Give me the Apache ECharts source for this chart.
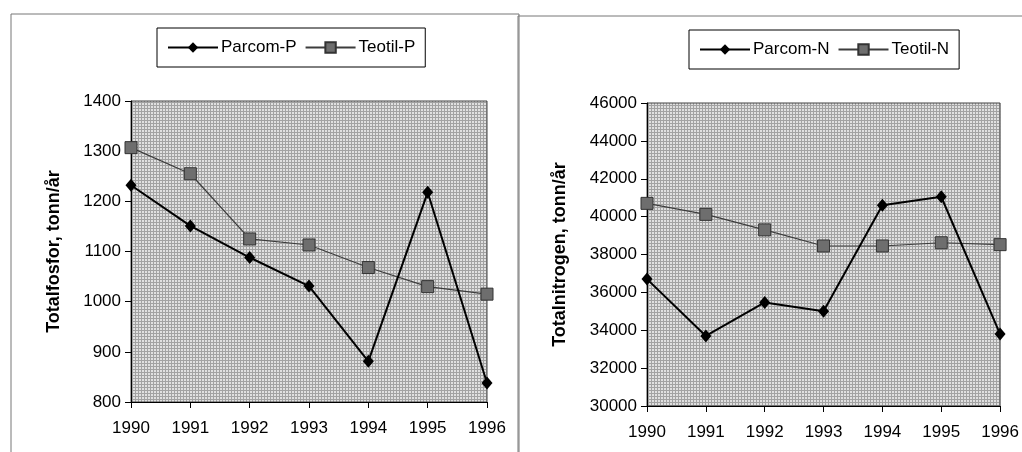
<!DOCTYPE html>
<html><head><meta charset="utf-8">
<script src="https://cdn.jsdelivr.net/npm/echarts@6/dist/echarts.min.js"></script>
<style>html,body{margin:0;padding:0;background:#fff}#c{width:1022px;height:452px}</style>
</head><body><div id="c"></div>
<script>
var years = ['1990','1991','1992','1993','1994','1995','1996'];
var parcomP = [1232, 1151, 1088, 1031, 881, 1218, 838];
var teotilP = [1307, 1255, 1125, 1113, 1068, 1030, 1015];
var parcomN = [36700, 33700, 35470, 35000, 40600, 41050, 33800];
var teotilN = [40700, 40120, 39300, 38450, 38450, 38620, 38520];
var font = 'Arial, "Liberation Sans", sans-serif';

// stippled plot-area fill
var tile = document.createElement('canvas');
tile.width = 3; tile.height = 3;
var tc = tile.getContext('2d');
tc.fillStyle = '#e0e0e0'; tc.fillRect(0,0,3,3);
tc.fillStyle = '#a2a2a2'; tc.fillRect(0,0,3,1); tc.fillRect(0,0,1,3);
var bgFill = {image: tile, repeat: 'repeat'};

var chart = echarts.init(document.getElementById('c'));
function xAx(gi){return {type:'category',gridIndex:gi,data:years,boundaryGap:false,
  axisLine:{lineStyle:{color:'#000',width:1}},axisTick:{show:true,length:6,lineStyle:{color:'#000'}},
  axisLabel:{color:'#000',fontSize:17,fontFamily:font,margin:18},splitLine:{show:false}};}
function yAx(gi,min,max,iv,name,gap){return {type:'value',gridIndex:gi,min:min,max:max,interval:iv,
  name:name,nameLocation:'middle',nameGap:gap,nameTextStyle:{color:'#000',fontSize:18,fontWeight:'bold',fontFamily:font},
  axisLine:{show:true,lineStyle:{color:'#000',width:1}},axisTick:{show:true,length:6,lineStyle:{color:'#000'}},
  axisLabel:{color:'#000',fontSize:17,fontFamily:font,margin:10,formatter:function(v){return String(v);}},splitLine:{show:false}};}
function parcom(name,data,i){return {name:name,type:'line',xAxisIndex:i,yAxisIndex:i,data:data,
  symbol:'diamond',symbolSize:[11,13],itemStyle:{color:'#000'},lineStyle:{color:'#000',width:2},z:3};}
function teotil(name,data,i){return {name:name,type:'line',xAxisIndex:i,yAxisIndex:i,data:data,
  symbol:'rect',symbolSize:12,itemStyle:{color:'#6e6e6e',borderColor:'#333',borderWidth:1},lineStyle:{color:'#3c3c3c',width:1.2},z:2};}
function leg(ld,left,top){return {data:ld,left:left,top:top,orient:'horizontal',itemWidth:50,itemHeight:13,itemGap:8,
  padding:[11,10,11,10],borderColor:'#000',borderWidth:1,backgroundColor:'#fff',
  textStyle:{color:'#000',fontSize:17,fontFamily:font,padding:[0,0,0,-2]}};}
chart.setOption({
  animation:false,
  backgroundColor:'#fff',
  graphic:[
    {type:'rect',shape:{x:11,y:14,width:508,height:460},style:{fill:'none',stroke:'#777',lineWidth:1},z:-10},
    {type:'rect',shape:{x:518,y:16,width:520,height:460},style:{fill:'none',stroke:'#777',lineWidth:1},z:-10}
  ],
  legend:[leg(['Parcom-P','Teotil-P'],157,28),leg(['Parcom-N','Teotil-N'],689,30)],
  grid:[
    {left:131,right:535,top:101,bottom:50,show:true,backgroundColor:bgFill,borderColor:'#444',borderWidth:1},
    {left:647,right:19,top:103,bottom:46,show:true,backgroundColor:bgFill,borderColor:'#444',borderWidth:1}
  ],
  xAxis:[xAx(0),xAx(1)],
  yAxis:[yAx(0,800,1400,100,'Totalfosfor, tonn/år',68),yAx(1,30000,46000,2000,'Totalnitrogen, tonn/år',78)],
  series:[parcom('Parcom-P',parcomP,0),teotil('Teotil-P',teotilP,0),parcom('Parcom-N',parcomN,1),teotil('Teotil-N',teotilN,1)]
});
</script></body></html>
